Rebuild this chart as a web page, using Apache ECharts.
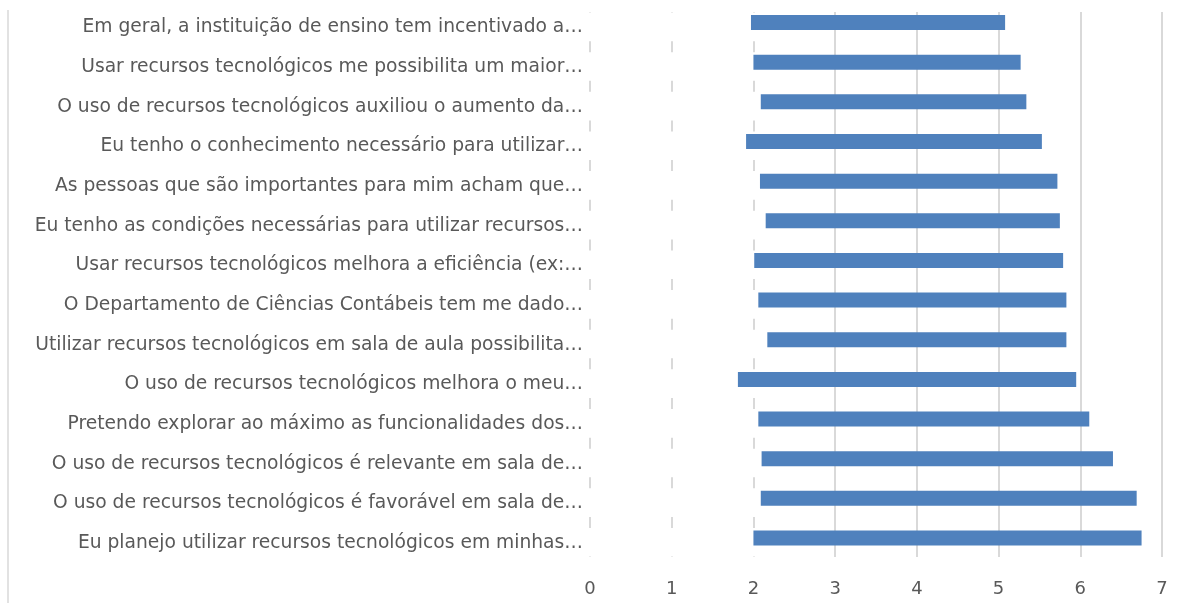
<!DOCTYPE html>
<html>
<head>
<meta charset="utf-8">
<script src="https://cdn.jsdelivr.net/npm/echarts@6/dist/echarts.min.js"></script>
<style>
  html, body { margin: 0; padding: 0; background: #ffffff; }
  #chart { width: 1187px; height: 603px; }
</style>
</head>
<body>
<div id="chart"></div>
<script>
// Categories, top to bottom
const categories = [
  "Em geral, a instituição de ensino tem incentivado a…",
  "Usar recursos tecnológicos me possibilita um maior…",
  "O uso de recursos tecnológicos auxiliou o aumento da…",
  "Eu tenho o conhecimento necessário para utilizar…",
  "As pessoas que são importantes para mim acham que…",
  "Eu tenho as condições necessárias para utilizar recursos…",
  "Usar recursos tecnológicos melhora a eficiência (ex:…",
  "O Departamento de Ciências Contábeis tem me dado…",
  "Utilizar recursos tecnológicos em sala de aula possibilita…",
  "O uso de recursos tecnológicos melhora o meu…",
  "Pretendo explorar ao máximo as funcionalidades dos…",
  "O uso de recursos tecnológicos é relevante em sala de…",
  "O uso de recursos tecnológicos é favorável em sala de…",
  "Eu planejo utilizar recursos tecnológicos em minhas…"
];
// Bar start values (low end) and end values (high end)
const startValues = [1.97, 2.00, 2.09, 1.91, 2.08, 2.15, 2.01, 2.06, 2.17, 1.81, 2.06, 2.10, 2.09, 2.00];
const endValues   = [5.08, 5.27, 5.34, 5.53, 5.72, 5.75, 5.79, 5.83, 5.83, 5.95, 6.11, 6.40, 6.69, 6.75];
// X axis tick labels
const xTicks = [0, 1, 2, 3, 4, 5, 6, 7];

const rangeValues = endValues.map((e, i) => +(e - startValues[i]).toFixed(3));

const gridColor = '#d9d9d9';
const clear = 'rgba(0,0,0,0)';
const dashedColors = xTicks.map(v => v <= 2 ? gridColor : clear);
const solidColors = xTicks.map(v => v <= 2 ? clear : gridColor);
const FONT = 'DejaVu Sans';

const chart = echarts.init(document.getElementById('chart'), null, { renderer: 'canvas' });
chart.setOption({
  animation: false,
  backgroundColor: '#ffffff',
  textStyle: { fontFamily: FONT },
  graphic: [{
    type: 'line',
    shape: { x1: 8, y1: 10, x2: 8, y2: 603 },
    style: { stroke: gridColor, lineWidth: 1.5 },
    z: -1
  }],
  grid: [
    { left: 590, right: 25, top: 2.7, bottom: 45.2, containLabel: false },
    { left: 590, right: 25, top: 12, bottom: 46, containLabel: false }
  ],
  xAxis: [
    { gridIndex: 0, type: 'value', min: 0, max: 7, interval: 1, show: false, position: 'bottom' },
    {
      gridIndex: 1, type: 'value', min: 0, max: 7, interval: 1, position: 'bottom',
      axisLine: { show: false }, axisTick: { show: false }, axisLabel: { show: false },
      splitLine: { show: true, lineStyle: { color: dashedColors, width: 2, type: [0.5, 28.65, 10.5, 0] } }
    },
    {
      gridIndex: 1, type: 'value', min: 0, max: 7, interval: 1, position: 'bottom',
      axisLine: { show: false }, axisTick: { show: false },
      axisLabel: { show: true, color: '#595959', fontSize: 18, margin: 23, fontFamily: FONT },
      splitLine: { show: true, lineStyle: { color: solidColors, width: 2 } }
    }
  ],
  yAxis: [
    {
      gridIndex: 0, type: 'category', data: categories, inverse: true,
      axisLine: { show: false }, axisTick: { show: false }, splitLine: { show: false },
      axisLabel: { interval: 0, color: '#595959', fontSize: 18.7, margin: 7, verticalAlign: 'top', lineHeight: 10, fontFamily: FONT }
    },
    { gridIndex: 1, type: 'value', min: 0, max: 1, show: false }
  ],
  series: [
    {
      type: 'bar', xAxisIndex: 0, yAxisIndex: 0, stack: 'r',
      data: startValues, barWidth: 15,
      itemStyle: { color: clear }, silent: true
    },
    {
      type: 'bar', xAxisIndex: 0, yAxisIndex: 0, stack: 'r',
      data: rangeValues, barWidth: 15,
      itemStyle: { color: '#4f81bd' }
    }
  ]
});
</script>
</body>
</html>
